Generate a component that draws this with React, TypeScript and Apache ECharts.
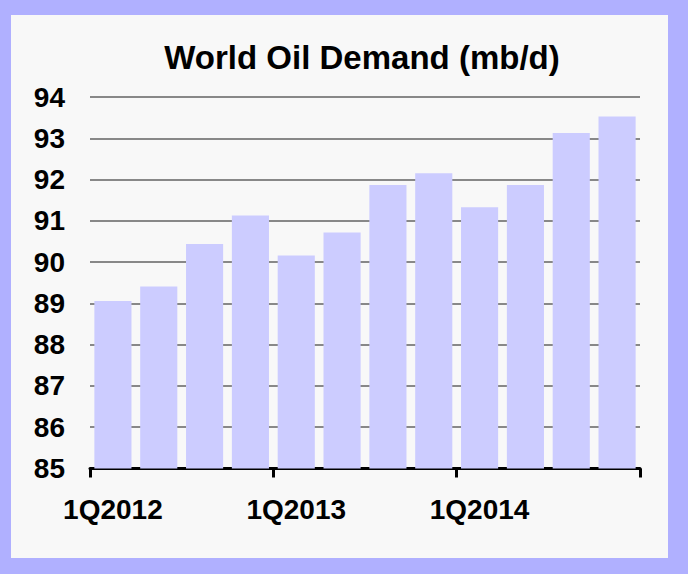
import React, { useEffect, useRef } from "react";
import * as echarts from "echarts";

const titleText = "World Oil Demand (mb/d)";
const categories = [
  "1Q2012", "2Q2012", "3Q2012", "4Q2012",
  "1Q2013", "2Q2013", "3Q2013", "4Q2013",
  "1Q2014", "2Q2014", "3Q2014", "4Q2014",
];
const demand = [89.06, 89.41, 90.44, 91.13, 90.16, 90.72, 91.87, 92.15, 91.33, 91.87, 93.13, 93.53];
const yMin = 85;
const yMax = 94;
const yStep = 1;

export default function App() {
  const ref = useRef<HTMLDivElement>(null);
  useEffect(() => {
    if (!ref.current) return;
    const chart = echarts.init(ref.current, null, { renderer: "svg" });
    const font = "'Liberation Sans', Arial, sans-serif";
    chart.setOption({
      animation: false,
      backgroundColor: "transparent",
      title: {
        text: titleText,
        left: 357,
        top: 36,
        textAlign: "center",
        textStyle: { fontFamily: font, fontWeight: "bold", fontSize: 33, color: "#000" },
      },
      grid: { left: 90, right: 48, top: 97, bottom: 105.5, containLabel: false },
      xAxis: {
        type: "category",
        data: categories,
        boundaryGap: true,
        axisLine: { show: true, lineStyle: { color: "#000", width: 3 } },
        axisTick: { show: true, interval: 3, length: 9, lineStyle: { color: "#000", width: 3 } },
        axisLabel: {
          interval: 3,
          margin: 27,
          fontFamily: font,
          fontWeight: "bold",
          fontSize: 28,
          color: "#000",
        },
        splitLine: { show: false },
      },
      yAxis: {
        type: "value",
        min: yMin,
        max: yMax,
        interval: yStep,
        axisLine: { show: false },
        axisTick: { show: false },
        axisLabel: {
          margin: 25,
          fontFamily: font,
          fontWeight: "bold",
          fontSize: 28,
          color: "#000",
        },
        splitLine: { show: true, lineStyle: { color: "#888", width: 2 } },
      },
      series: [
        {
          type: "bar",
          data: demand,
          barCategoryGap: "19%",
          itemStyle: { color: "#ccccff" },
        },
      ],
    });
    return () => chart.dispose();
  }, []);
  return (
    <div style={{ position: "fixed", left: 0, top: 0, width: 688, height: 574, background: "#b0b0ff" }}>
      <div style={{ position: "absolute", left: 11, top: 15, width: 657, height: 543, background: "#f8f8f8" }} />
      <div ref={ref} style={{ position: "absolute", left: 0, top: 0, width: 688, height: 574 }} />
    </div>
  );
}
